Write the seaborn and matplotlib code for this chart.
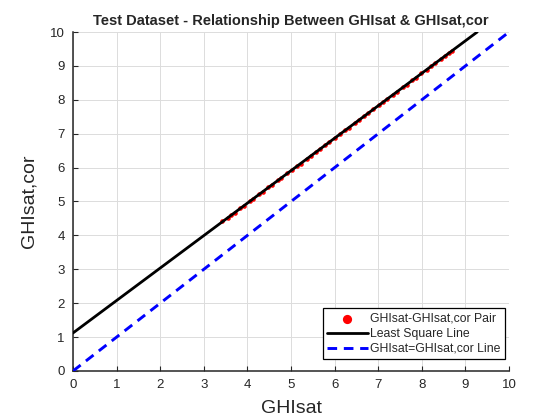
import numpy as np
import pandas as pd
import seaborn as sns
import matplotlib
matplotlib.use("Agg")
import matplotlib.pyplot as plt

# test-set pairs
ghi_sat = [3.42, 3.55, 3.63, 3.71, 3.84, 3.92, 4.05, 4.13, 4.27, 4.36,
           4.48, 4.57, 4.69, 4.78, 4.91, 5.02, 5.14, 5.23, 5.36, 5.45,
           5.58, 5.67, 5.79, 5.88, 6.01, 6.12, 6.24, 6.33, 6.46, 6.55,
           6.68, 6.77, 6.89, 7.01, 7.12, 7.21, 7.34, 7.43, 7.56, 7.65,
           7.78, 7.87, 7.99, 8.11, 8.22, 8.31, 8.44, 8.53, 8.62, 8.70]
ghi_sat_cor = [4.41, 4.51, 4.61, 4.66, 4.81, 4.87, 5.01, 5.07, 5.22, 5.29,
               5.42, 5.49, 5.62, 5.69, 5.83, 5.92, 6.05, 6.12, 6.26, 6.34,
               6.47, 6.55, 6.66, 6.76, 6.87, 6.99, 7.10, 7.18, 7.31, 7.39,
               7.53, 7.60, 7.72, 7.84, 7.93, 8.03, 8.15, 8.24, 8.37, 8.44,
               8.58, 8.65, 8.78, 8.88, 9.00, 9.08, 9.21, 9.29, 9.38, 9.45]
identity = [0, 10]
ticks = list(range(0, 11))

sns.set_style("whitegrid")
plt.rcParams["font.family"] = ["Liberation Sans", "DejaVu Sans"]

df = pd.DataFrame({"x": ghi_sat, "y": ghi_sat_cor})
slope, icpt = np.polyfit(df["x"], df["y"], 1)
x_end = (10 - icpt) / slope
fit_df = pd.DataFrame({"x": [0, x_end], "y": [icpt, 10]})
id_df = pd.DataFrame({"x": identity, "y": identity})

fig = plt.figure(figsize=(5.6, 4.2), dpi=100)
ax = fig.add_axes([0.1304, 0.1167, 0.7786, 0.8071])

sns.scatterplot(data=df, x="x", y="y", ax=ax, color="red", s=11, linewidth=0,
                label="GHIsat-GHIsat,cor Pair", zorder=3)
sns.lineplot(data=fit_df, x="x", y="y", ax=ax, color="black", linewidth=2.0,
             label="Least Square Line", zorder=4)
sns.lineplot(data=id_df, x="x", y="y", ax=ax, color="blue", linewidth=2.1,
             linestyle=(0, (3.3, 2.3)), label="GHIsat=GHIsat,cor Line", zorder=4)

ax.set_xlim(0, 10)
ax.set_ylim(0, 10)
ax.set_xticks(ticks)
ax.set_yticks(ticks)
ax.grid(True, color="#dcdcdc", linewidth=0.7)
for s in ["top", "right"]:
    ax.spines[s].set_visible(False)
for s in ["left", "bottom"]:
    ax.spines[s].set_color("#262626")
    ax.spines[s].set_linewidth(1.1)
ax.tick_params(direction="in", length=3.5, width=0.8, colors="#262626",
               labelsize=9.5, left=True, bottom=True, pad=6)

ax.set_xlabel("GHIsat", fontsize=14, color="#262626", labelpad=6)
ax.set_ylabel("GHIsat,cor", fontsize=14, color="#262626", labelpad=9)
ax.set_title("Test Dataset - Relationship Between GHIsat & GHIsat,cor",
             fontsize=10.5, fontweight="bold", pad=5)

handles, labels = ax.get_legend_handles_labels()
leg = ax.legend(handles, labels, loc="lower right", bbox_to_anchor=(0.99, 0.035),
                fontsize=8.8, frameon=True, fancybox=False, edgecolor="black",
                framealpha=1, markerscale=2.0, handlelength=3.3, borderpad=0.35,
                labelspacing=0.25, handletextpad=0.2, borderaxespad=0.0)
leg.get_frame().set_linewidth(0.9)

fig.savefig("out.png", dpi=100)
